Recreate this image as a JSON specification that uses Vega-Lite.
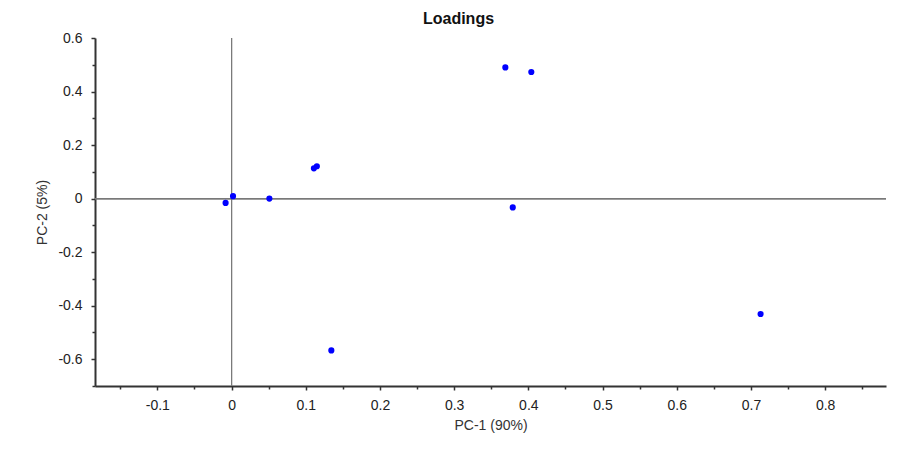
{
  "$schema": "https://vega.github.io/schema/vega-lite/v6.json",
  "autosize": {"type": "none"},
  "width": 791,
  "height": 348,
  "padding": {"left": 95, "top": 38, "right": 13, "bottom": 71},
  "background": "white",
  "config": {
    "view": {"stroke": null},
    "font": "Liberation Sans",
    "axis": {
      "grid": false,
      "domainColor": "#333333",
      "domainWidth": 2,
      "tickColor": "#333333",
      "tickWidth": 1.5,
      "labelFont": "Liberation Sans",
      "labelFontSize": 14,
      "labelColor": "#222222",
      "labelOverlap": false,
      "titleFont": "Liberation Sans",
      "titleFontSize": 14,
      "titleFontWeight": "normal",
      "titleColor": "#333333"
    }
  },
  "title": {
    "text": "Loadings",
    "font": "Liberation Sans",
    "fontSize": 16,
    "fontWeight": "bold",
    "color": "#111111",
    "anchor": "middle",
    "dx": -32,
    "offset": 4
  },
  "data": {
    "values": [
      {"pc1": -0.008, "pc2": -0.016},
      {"pc1": 0.002, "pc2": 0.009},
      {"pc1": 0.051, "pc2": 0.0},
      {"pc1": 0.111, "pc2": 0.113},
      {"pc1": 0.115, "pc2": 0.121},
      {"pc1": 0.369, "pc2": 0.490},
      {"pc1": 0.404, "pc2": 0.473},
      {"pc1": 0.379, "pc2": -0.033},
      {"pc1": 0.1345, "pc2": -0.567},
      {"pc1": 0.713, "pc2": -0.431}
    ]
  },
  "layer": [
    {
      "mark": {"type": "rule", "color": "#7a7a7a", "strokeWidth": 1},
      "encoding": {"x": {"datum": 0, "type": "quantitative"}}
    },
    {
      "mark": {"type": "rule", "color": "#7a7a7a", "strokeWidth": 1},
      "encoding": {"y": {"datum": 0, "type": "quantitative"}}
    },
    {
      "mark": {"type": "point", "filled": true, "color": "#0000ff", "opacity": 1, "size": 38},
      "encoding": {
        "x": {
          "field": "pc1",
          "type": "quantitative",
          "scale": {"domain": [-0.184, 0.882], "nice": false, "zero": false},
          "axis": {
            "title": "PC-1 (90%)",
            "values": [-0.15, -0.1, -0.05, 0, 0.05, 0.1, 0.15, 0.2, 0.25, 0.3, 0.35, 0.4, 0.45, 0.5, 0.55, 0.6, 0.65, 0.7, 0.75, 0.8, 0.85],
            "tickCount": 100,
            "labelExpr": "abs(round(datum.value*10) - datum.value*10) < 0.01 ? '' + round(datum.value*10)/10 : ''",
            "tickSize": {"condition": {"test": "abs(round(datum.value*10) - datum.value*10) < 0.01", "value": 4}, "value": 3},
            "labelPadding": 8,
            "titlePadding": 6,
            "labelFlush": false
          }
        },
        "y": {
          "field": "pc2",
          "type": "quantitative",
          "scale": {"domain": [-0.7, 0.6], "nice": false, "zero": false},
          "axis": {
            "title": "PC-2 (5%)",
            "values": [-0.7, -0.6, -0.5, -0.4, -0.3, -0.2, -0.1, 0, 0.1, 0.2, 0.3, 0.4, 0.5, 0.6],
            "tickCount": 100,
            "labelExpr": "abs(round(datum.value*5) - datum.value*5) < 0.01 ? '' + round(datum.value*10)/10 : ''",
            "tickSize": {"condition": {"test": "abs(round(datum.value*5) - datum.value*5) < 0.01", "value": 4}, "value": 3},
            "labelPadding": 9,
            "titlePadding": 8,
            "labelFlush": false
          }
        }
      }
    }
  ]
}
